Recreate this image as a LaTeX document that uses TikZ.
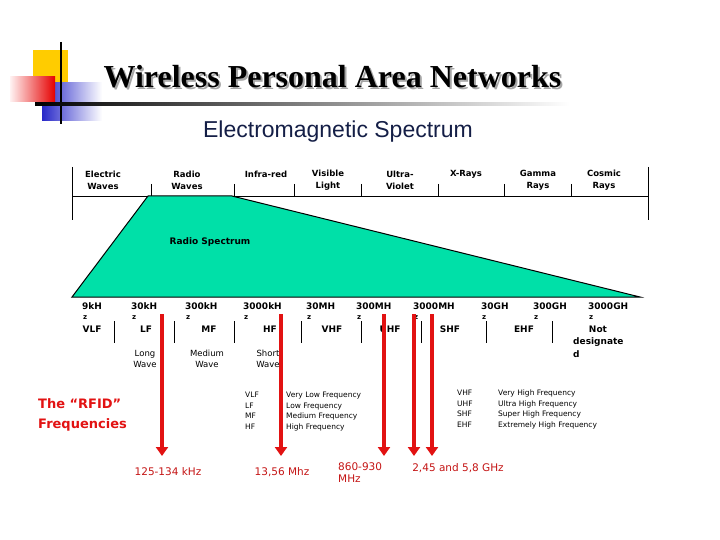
\documentclass[tikz,border=0pt]{standalone}
\usepackage{fontspec}
\usetikzlibrary{arrows.meta}
\newfontfamily\dv{DejaVu Sans}
\newfontfamily\lsans{Liberation Sans}
\newfontfamily\lserif{Liberation Serif}
\definecolor{specgreen}{RGB}{0,224,168}
\definecolor{rfred}{RGB}{226,18,18}
\definecolor{darkred}{RGB}{196,20,20}
\definecolor{navy}{RGB}{20,30,70}
\definecolor{logoyellow}{RGB}{255,204,0}
\definecolor{logoblue}{RGB}{40,40,200}
\tikzset{
  toplab/.style={font=\dv\bfseries\fontsize{8.5}{12}\selectfont, align=center, inner sep=0},
  freqlab/.style={font=\dv\bfseries\fontsize{9}{10}\selectfont, inner sep=0, anchor=west},
  zlab/.style={font=\dv\bfseries\fontsize{7}{8}\selectfont, inner sep=0, anchor=west},
  bandlab/.style={font=\dv\bfseries\fontsize{9}{10}\selectfont, inner sep=0},
  wavelab/.style={font=\dv\fontsize{8.5}{11}\selectfont, align=center, inner sep=0},
  leg/.style={font=\dv\fontsize{7.5}{10.5}\selectfont, align=left, anchor=north west, inner sep=0},
  rfidlab/.style={font=\dv\fontsize{10.5}{12}\selectfont, text=darkred, inner sep=0},
  redarrow/.style={draw=rfred, line width=4pt, -{Triangle[width=12pt,length=9pt]}},
  tick/.style={draw=black, line width=0.9pt},
}
\begin{document}
\begin{tikzpicture}[x=1pt,y=-1pt]
\useasboundingbox (0,0) rectangle (720,540);
% logo
\fill[logoyellow] (33,50) rectangle (68,100);
\shade[left color=logoblue, right color=white] (42,83) rectangle (102,121);
\shade[left color=red!5, right color=red!90!black] (10,77) rectangle (55,102);
\draw[black, line width=2pt] (61,42) -- (61,124);
\shade[left color=black, right color=white] (35,103) rectangle (570,105.2);
% title with shadow
\node[font=\lserif\bfseries\fontsize{32}{36}\selectfont, text=black, inner sep=0] (title) at (332.5,78)
  {\makebox[0pt][l]{\hspace{2pt}\raisebox{-2pt}{\color{gray!70}Wireless Personal Area Networks}}Wireless Personal Area Networks};
\node[font=\lsans\fontsize{23}{26}\selectfont, text=navy, inner sep=0] (subtitle) at (338,132) {Electromagnetic Spectrum};
% spectrum box
\coordinate (bl) at (72,196); \coordinate (br) at (648,196);
\draw[tick] (72,167) -- (72,220);
\draw[tick] (648,167) -- (648,220);
\draw[tick] (bl) -- (br);
\foreach \x in {151,234,294,361,438,504,571} \draw[tick] (\x,184) -- (\x,196);
% radio spectrum polygon
\filldraw[fill=specgreen, draw=black, line width=1pt] (72,297) -- (148,196) -- (232,196) -- (640,297) -- cycle;
\node[font=\dv\bfseries\fontsize{9}{10}\selectfont, inner sep=0] (rs) at (210,242) {Radio Spectrum};
% top labels
\node[toplab] (ew) at (103,180) {Electric\\Waves};
\node[toplab] (rw) at (187,180) {Radio\\Waves};
\node[toplab] (ir) at (266,174) {Infra-red};
\node[toplab] (vl) at (328,180) {Visible\\Light};
\node[toplab] (uv) at (400,180) {Ultra-\\Violet};
\node[toplab] (xr) at (466,174) {X-Rays};
\node[toplab] (gr) at (538,180) {Gamma\\Rays};
\node[toplab] (cr) at (604,180) {Cosmic\\Rays};
% frequency labels
\foreach \x/\t/\n in {82/9kH/f1,131/30kH/f2,185/300kH/f3,243/3000kH/f4,306/30MH/f5,356/300MH/f6,413/3000MH/f7,481/30GH/f8,533/300GH/f9,588/3000GH/f10}{
  \node[freqlab] (\n) at (\x,306) {\t};
  \node[zlab] (\n z) at (\x+1,318) {z};
}
% band labels
\foreach \x/\t/\n in {92/VLF/b1,146/LF/b2,209/MF/b3,270/HF/b4,332/VHF/b5,390/UHF/b6,450/SHF/b7,524/EHF/b8,598/Not/b9}{
  \node[bandlab] (\n) at (\x,329) {\t};
}
\node[bandlab, anchor=west] (b9a) at (573,342) {designate};
\node[bandlab, anchor=west] (b9b) at (573,354) {d};
\foreach \x in {114,174,234,301,361,421,486,552} \draw[tick] (\x,321) -- (\x,343);
% wave labels
\node[wavelab] (lw) at (145,358.5) {Long\\Wave};
\node[wavelab] (mw) at (207,358.5) {Medium\\Wave};
\node[wavelab] (sw) at (268,358.5) {Short\\Wave};
% legends
\node[leg] (la1) at (245,392) {VLF\\LF\\MF\\HF};
\node[leg] (ld1) at (286,392) {Very Low Frequency\\Low Frequency\\Medium Frequency\\High Frequency};
\node[leg] (la2) at (457,390) {VHF\\UHF\\SHF\\EHF};
\node[leg] (ld2) at (498,390) {Very High Frequency\\Ultra High Frequency\\Super High Frequency\\Extremely High Frequency};
% RFID label
\node[font=\dv\bfseries\fontsize{13}{20}\selectfont, text=rfred, align=left, anchor=west, inner sep=0] (rfid) at (38,415) {The “RFID”\\Frequencies};
% red arrows
\foreach \x/\n in {162/a1,281/a2,384/a3,414/a4,432/a5}{
  \coordinate (\n s) at (\x,314);
  \coordinate (\n e) at (\x,456);
  \draw[redarrow] (\n s) -- (\n e);
}
% bottom labels
\node[rfidlab] (l1) at (168,472) {125-134 kHz};
\node[rfidlab] (l2) at (282,472) {13,56 Mhz};
\node[rfidlab, align=left, anchor=west, font=\dv\fontsize{10.5}{12}\selectfont] (l3) at (338,473) {860-930\\MHz};
\node[rfidlab] (l4) at (458,468) {2,45 and 5,8 GHz};
\end{tikzpicture}
\end{document}
